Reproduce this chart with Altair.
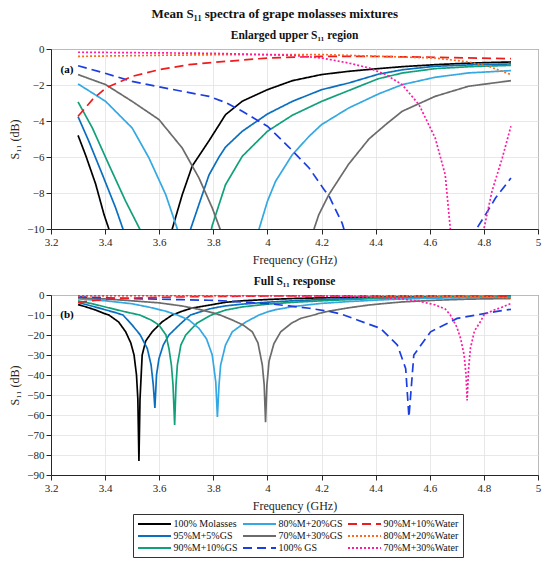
import altair as alt
import pandas as pd

# ---------------- data ----------------
NAMES = ["100% Molasses", "95%M+5%GS", "90%M+10%GS", "80%M+20%GS", "70%M+30%GS",
         "100% GS", "90%M+10%Water", "80%M+20%Water", "70%M+30%Water"]

MOL_F = [3.30, 3.328, 3.365, 3.396, 3.414, 3.45, 3.476, 3.495, 3.507, 3.516, 3.521, 3.525, 3.529, 3.537,
         3.55, 3.574, 3.61, 3.648, 3.685, 3.722, 3.784, 3.845, 3.907, 4.0, 4.092, 4.2, 4.3, 4.41, 4.5,
         4.62, 4.75, 4.9]
MOL_DB = [-4.8, -5.9, -7.5, -9.2, -10.0, -13.5, -18.4, -24.0, -30.0, -40.0, -52.0, -83.0, -52.0, -30.0,
          -23.0, -18.4, -13.5, -10.0, -8.1, -6.5, -5.1, -3.65, -2.9, -2.26, -1.76, -1.42, -1.24, -1.09,
          -0.98, -0.87, -0.78, -0.72]

GS95_F = [3.30, 3.34, 3.39, 3.439, 3.466, 3.50, 3.53, 3.556, 3.570, 3.578, 3.584, 3.590, 3.599, 3.615,
          3.636, 3.67, 3.698, 3.716, 3.759, 3.784, 3.821, 3.845, 3.907, 4.0, 4.092, 4.2, 4.3, 4.41, 4.5,
          4.62, 4.75, 4.9]
GS95_DB = [-3.76, -5.13, -6.98, -8.83, -10.0, -15.0, -20.0, -26.8, -35.0, -45.0, -56.5, -40.0, -31.8,
           -25.0, -20.0, -15.5, -12.0, -10.0, -8.1, -7.0, -6.0, -5.45, -4.57, -3.61, -2.91, -2.26, -1.89,
           -1.4, -1.15, -0.96, -0.88, -0.83]

GS90_F = [3.30, 3.353, 3.414, 3.476, 3.528, 3.57, 3.599, 3.625, 3.636, 3.645, 3.651, 3.657, 3.662, 3.667,
          3.68, 3.698, 3.74, 3.772, 3.796, 3.845, 3.907, 4.0, 4.092, 4.2, 4.3, 4.41, 4.5, 4.62, 4.75, 4.9]
GS90_DB = [-2.94, -4.39, -6.43, -8.46, -10.0, -12.5, -15.0, -20.0, -26.8, -35.0, -45.0, -65.0, -45.0,
           -35.0, -25.0, -20.0, -14.0, -11.5, -9.8, -7.54, -5.96, -4.57, -3.68, -2.91, -2.31, -1.65,
           -1.33, -1.09, -0.98, -0.91]

GS80_F = [3.30, 3.402, 3.5, 3.562, 3.624, 3.667, 3.71, 3.747, 3.775, 3.796, 3.809, 3.815, 3.821, 3.827,
          3.845, 3.87, 3.92, 3.969, 4.0, 4.03, 4.092, 4.154, 4.2, 4.3, 4.41, 4.498, 4.62, 4.743, 4.9]
GS80_DB = [-1.94, -2.91, -4.39, -6.05, -8.09, -10.0, -12.5, -16.7, -22.0, -30.0, -43.5, -61.0, -45.0,
           -35.0, -25.0, -18.4, -13.5, -10.0, -8.46, -7.35, -5.87, -4.85, -4.2, -3.28, -2.5, -1.98,
           -1.57, -1.33, -1.2]

GS70_F = [3.30, 3.402, 3.5, 3.599, 3.685, 3.747, 3.796, 3.825, 3.87, 3.91, 3.944, 3.965, 3.981, 3.988,
          3.993, 3.998, 4.006, 4.024, 4.049, 4.09, 4.123, 4.172, 4.19, 4.227, 4.3, 4.375, 4.437, 4.498,
          4.62, 4.743, 4.9]
GS70_DB = [-1.42, -1.98, -2.91, -3.92, -5.5, -7.17, -8.83, -10.0, -12.5, -15.0, -18.4, -24.0, -35.0,
           -45.0, -63.6, -45.0, -33.0, -24.3, -18.4, -14.0, -11.7, -10.0, -9.2, -8.09, -6.4, -5.0, -4.2,
           -3.46, -2.63, -2.07, -1.76]

GS100_F = [3.30, 3.4, 3.5, 3.6, 3.685, 3.784, 3.85, 3.907, 4.0, 4.08, 4.154, 4.209, 4.228, 4.276, 4.332,
           4.418, 4.48, 4.511, 4.523, 4.541, 4.603, 4.701, 4.775, 4.806, 4.843, 4.9]
GS100_DB = [-0.93, -1.35, -1.8, -2.1, -2.35, -2.63, -3.0, -3.46, -4.29, -5.46, -6.61, -7.8, -8.18, -9.67,
            -12.5, -16.7, -25.0, -36.8, -61.0, -30.0, -18.4, -11.7, -9.94, -9.2, -8.28, -7.17]

W90_F = [3.30, 3.353, 3.402, 3.5, 3.599, 3.71, 3.821, 4.0, 4.2, 4.375, 4.62, 4.9]
W90_DB = [-3.74, -2.81, -2.17, -1.52, -1.15, -0.87, -0.72, -0.5, -0.41, -0.41, -0.46, -0.54]

W80_F = [3.30, 3.6, 3.8, 4.2, 4.4, 4.62, 4.743, 4.817, 4.9]
W80_DB = [-0.41, -0.35, -0.32, -0.31, -0.4, -0.5, -0.72, -0.96, -1.42]

W70_F = [3.30, 3.8, 4.092, 4.2, 4.3, 4.375, 4.437, 4.498, 4.56, 4.62, 4.657, 4.676, 4.70, 4.714, 4.727,
         4.734, 4.738, 4.743, 4.75, 4.765, 4.787, 4.8, 4.83, 4.868, 4.9]
W70_DB = [-0.18, -0.24, -0.35, -0.5, -0.78, -1.05, -1.42, -1.98, -3.09, -4.94, -6.98, -10.0, -16.0,
          -21.8, -30.0, -40.0, -52.7, -38.0, -26.8, -18.0, -13.4, -10.0, -7.9, -6.05, -4.29]

X_TICKS = [3.2, 3.4, 3.6, 3.8, 4.0, 4.2, 4.4, 4.6, 4.8, 5.0]
TOP_TICKS = [-10, -8, -6, -4, -2, 0]
FULL_TICKS = [-90, -80, -70, -60, -50, -40, -30, -20, -10, 0]

# ---------------- styles ----------------
COLORS = ["#000000", "#0A6FBF", "#10A07A", "#33A8E2", "#6B6B6B",
          "#1A3EE0", "#EE1C1C", "#FF6A1A", "#FF1AA3"]
DASHES = [[1, 0], [1, 0], [1, 0], [1, 0], [1, 0], [9, 5], [9, 5], [2, 2], [2, 2]]

series_data = [MOL_F, GS95_F, GS90_F, GS80_F, GS70_F, GS100_F, W90_F, W80_F, W70_F]
series_vals = [MOL_DB, GS95_DB, GS90_DB, GS80_DB, GS70_DB, GS100_DB, W90_DB, W80_DB, W70_DB]

rows = []
for name, fs, dbs in zip(NAMES, series_data, series_vals):
    for f, d in zip(fs, dbs):
        rows.append({"series": name, "f": f, "db": d})
df = pd.DataFrame(rows)

FONT = "Liberation Serif"

legend = alt.Legend(title=None, orient="none", legendX=82, legendY=465, columns=3,
                    symbolType="M-3.3,0H3.3", symbolSize=100, symbolStrokeWidth=2,
                    symbolOffset=11.5, labelOffset=13,
                    labelFont=FONT, labelFontSize=10, labelColor="#111111",
                    strokeColor="#333333", fillColor="white", padding=4,
                    rowPadding=1, columnPadding=1, symbolLimit=0)


def panel(title, ydom, yticks, label, label_db):
    x_main = alt.X("f:Q", scale=alt.Scale(domain=[3.2, 5.0], nice=False, zero=False),
                   axis=alt.Axis(values=X_TICKS, format="~g", title="Frequency (GHz)", grid=True,
                                 labelFlush=False, labelOverlap=False, titlePadding=7))
    y_main = alt.Y("db:Q", scale=alt.Scale(domain=ydom, nice=False, zero=False),
                   axis=alt.Axis(values=yticks, title="S₁₁ (dB)", grid=True,
                                 labelOverlap=False, titlePadding=5))
    lines = alt.Chart(df).mark_line(clip=True, strokeWidth=1.7).encode(
        x=x_main, y=y_main,
        color=alt.Color("series:N", scale=alt.Scale(domain=NAMES, range=COLORS), legend=legend),
        strokeDash=alt.StrokeDash("series:N", scale=alt.Scale(domain=NAMES, range=DASHES), legend=legend),
    )
    lab = alt.Chart(pd.DataFrame({"f": [3.259], "db": [label_db], "t": [label]})).mark_text(
        fontWeight="bold", fontSize=11, font=FONT).encode(
        x=alt.X("f:Q", axis=None), y=alt.Y("db:Q", axis=None), text="t:N")
    return alt.layer(lines, lab).resolve_axis(x="independent", y="independent").properties(
        width=487, height=180,
        title=alt.TitleParams(title, fontSize=11.5, fontWeight="bold", offset=2, frame="group",
                              anchor="middle", font=FONT))


top = panel("Enlarged upper S₁₁ region", [-10, 0], TOP_TICKS, "(a)", -1.18)
bottom = panel("Full S₁₁ response", [-90, 0], FULL_TICKS, "(b)", -9.9)

chart = alt.vconcat(top, bottom, spacing=9).properties(
    title=alt.TitleParams("Mean S₁₁ spectra of grape molasses mixtures", fontSize=13, fontWeight="bold",
                          anchor="middle", offset=8, font=FONT),
    padding=0,
).configure(font=FONT).configure_axis(
    labelFont=FONT, labelFontSize=11, labelColor="#262626",
    titleFont=FONT, titleFontSize=12, titleFontWeight="normal", titleColor="#262626",
    gridColor="#E2E2E2", gridWidth=0.8, tickColor="#262626", domainColor="#262626",
    tickSize=5, labelPadding=2,
).configure_view(stroke="#262626", strokeWidth=1).configure_title(color="#111111")

chart.save("out.html", embed_options={"renderer": "svg", "actions": False})
